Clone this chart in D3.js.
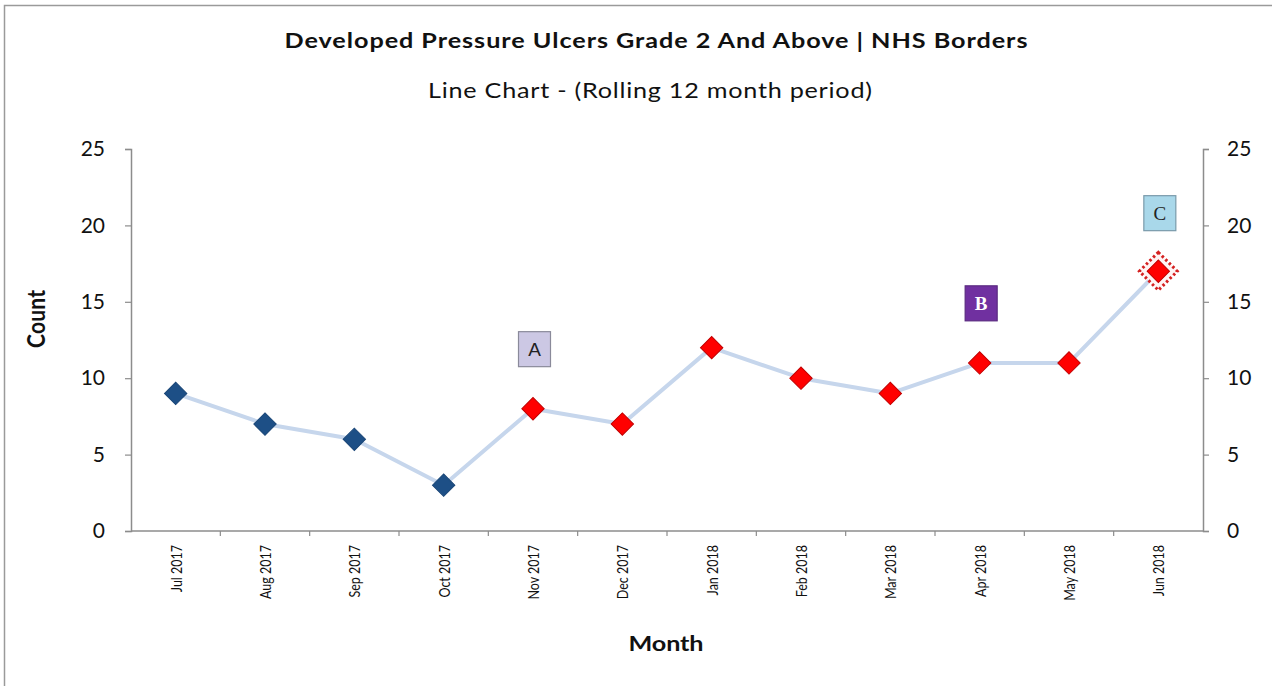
<!DOCTYPE html>
<html>
<head>
<meta charset="utf-8">
<script src="https://cdn.jsdelivr.net/npm/d3@7"></script>
<style>
  html, body { margin: 0; padding: 0; background: #fff; }
  svg { display: block; font-family: Lato, "Open Sans", "DejaVu Sans", sans-serif; }
</style>
</head>
<body>
<svg id="chart" width="1272" height="686"></svg>
<script>
// Rolling 12-month counts of developed pressure ulcers (grade 2 and above)
const months = ["Jul 2017", "Aug 2017", "Sep 2017", "Oct 2017", "Nov 2017", "Dec 2017",
                "Jan 2018", "Feb 2018", "Mar 2018", "Apr 2018", "May 2018", "Jun 2018"];
const counts = [9, 7, 6, 3, 8, 7, 12, 10, 9, 11, 11, 17];
// Marker group per month: "base" before the change, "post" afterwards
const markerGroup = ["base", "base", "base", "base", "post", "post",
                     "post", "post", "post", "post", "post", "post"];
const yTicks = [0, 5, 10, 15, 20, 25];
// Annotation boxes: label, month they sit over, and the count level of their centre
const noteLabels = ["A", "B", "C"];
const noteMonths = ["Nov 2017", "Apr 2018", "Jun 2018"];
const noteLevels = [11.9, 14.9, 20.8];

const svg = d3.select("#chart");
const stretch = 1.2; // wide lettering used throughout the chart's text

// Outer frame
svg.append("rect")
  .attr("x", 4.5).attr("y", 5.5).attr("width", 1300).attr("height", 700)
  .attr("fill", "none").attr("stroke", "#9a9a9a").attr("stroke-width", 1.5);

const plotLeft = 131, plotRight = 1203, plotTop = 149, plotBottom = 531;

const x = d3.scaleBand().domain(months).range([plotLeft, plotRight]).padding(0);
const y = d3.scaleLinear().domain([0, 25]).range([plotBottom, plotTop]);

// Horizontally widened text helper
function wideText(px, py, str, size, weight, width) {
  const t = svg.append("g").attr("transform", `translate(${px},${py}) scale(${stretch},1)`)
    .append("text").attr("text-anchor", "middle")
    .attr("font-size", size).attr("font-weight", weight).attr("fill", "#111").text(str);
  if (width) t.attr("textLength", width / stretch).attr("lengthAdjust", "spacing");
  return t;
}

// Titles
wideText(656, 48, "Developed Pressure Ulcers Grade 2 And Above | NHS Borders", 21, "bold", 743);
wideText(650, 98, "Line Chart - (Rolling 12 month period)", 21, "normal", 444);

// Left value axis
const yLeft = svg.append("g").attr("transform", `translate(${plotLeft},0)`)
  .call(d3.axisLeft(y).tickValues(yTicks).tickSize(6).tickPadding(20));
// Right value axis
const yRight = svg.append("g").attr("transform", `translate(${plotRight},0)`)
  .call(d3.axisRight(y).tickValues(yTicks).tickSize(6).tickPadding(18));
[yLeft, yRight].forEach(g => {
  g.select(".domain").attr("stroke", "#8c8c8c").attr("stroke-width", 1.5);
  g.selectAll(".tick line").attr("stroke", "#8c8c8c").attr("stroke-width", 1.2);
  g.selectAll(".tick text").attr("font-size", 21).attr("fill", "#111")
    .attr("font-family", "Lato, 'Open Sans', sans-serif");
});

// Category axis: ticks on band boundaries, labels rotated
const xAxis = svg.append("g").attr("transform", `translate(0,${plotBottom})`);
xAxis.append("line").attr("x1", plotLeft).attr("x2", plotRight).attr("y1", 0).attr("y2", 0)
  .attr("stroke", "#8c8c8c").attr("stroke-width", 1.5);
xAxis.selectAll("line.tk").data(months.slice(1)).join("line").attr("class", "tk")
  .attr("x1", d => x(d)).attr("x2", d => x(d)).attr("y1", 0).attr("y2", 5)
  .attr("stroke", "#8c8c8c").attr("stroke-width", 1.2);
xAxis.selectAll("text").data(months).join("text")
  .attr("transform", d => `translate(${x(d) + x.bandwidth() / 2 + 6},14) rotate(-90) scale(1,${stretch})`)
  .attr("text-anchor", "end").attr("font-size", 12.5).attr("fill", "#111")
  .attr("font-family", "Lato, sans-serif")
  .text(d => d);

// Axis titles
svg.append("text").attr("transform", `translate(45,319) rotate(-90) scale(1,${stretch})`)
  .attr("text-anchor", "middle").attr("font-size", 21).attr("font-weight", "bold")
  .attr("fill", "#111").attr("textLength", 58).attr("lengthAdjust", "spacing").text("Count");
wideText(666, 651, "Month", 21, "bold", 75);

const cx = d => x(d) + x.bandwidth() / 2;
const pts = months.map((m, i) => ({ m, v: counts[i], g: markerGroup[i] }));

// Connecting line
svg.append("path").datum(pts)
  .attr("d", d3.line().x(d => cx(d.m)).y(d => y(d.v)))
  .attr("fill", "none").attr("stroke", "#c6d6ec").attr("stroke-width", 4)
  .attr("stroke-linejoin", "round");

// Highlight ring on the latest month
const last = pts[pts.length - 1];
svg.append("path")
  .attr("d", d3.symbol(d3.symbolSquare, 720)())
  .attr("transform", `translate(${cx(last.m)},${y(last.v)}) rotate(45)`)
  .attr("fill", "#fff3f3").attr("stroke", "#d42020").attr("stroke-width", 3)
  .attr("stroke-dasharray", "2.5,2.5");

// Diamond markers
svg.selectAll("path.mk").data(pts).join("path").attr("class", "mk")
  .attr("d", d3.symbol(d3.symbolSquare, 250)())
  .attr("transform", d => `translate(${cx(d.m)},${y(d.v)}) rotate(45)`)
  .attr("fill", d => d.g === "base" ? "#1d4f86" : "#ff0000")
  .attr("stroke", d => d.g === "base" ? "#1a4677" : "#c00000")
  .attr("stroke-width", 1);

// Annotation boxes
const noteStyle = {
  A: { fill: "#ccc8e4", stroke: "#8a8a9a", text: "#222", weight: "normal" },
  B: { fill: "#7030a0", stroke: "#5a2a80", text: "#fff", weight: "bold" },
  C: { fill: "#a9d8ea", stroke: "#7a9aaa", text: "#222", weight: "normal" }
};
const notes = noteLabels.map((l, i) => ({ l, m: noteMonths[i], v: noteLevels[i] }));
const ng = svg.selectAll("g.note").data(notes).join("g").attr("class", "note")
  .attr("transform", d => `translate(${cx(d.m) + 1.5},${y(d.v)})`);
ng.append("rect").attr("x", -16).attr("y", -17.5).attr("width", 32).attr("height", 35)
  .attr("fill", d => noteStyle[d.l].fill).attr("stroke", d => noteStyle[d.l].stroke)
  .attr("stroke-width", 1.2);
ng.append("text").attr("text-anchor", "middle").attr("dy", "0.36em")
  .attr("font-size", 19).attr("font-weight", d => noteStyle[d.l].weight)
  .attr("fill", d => noteStyle[d.l].text)
  .attr("font-family", d => d.l === "A" ? "'Liberation Sans', sans-serif" : "'Liberation Serif', serif")
  .text(d => d.l);
</script>
</body>
</html>
